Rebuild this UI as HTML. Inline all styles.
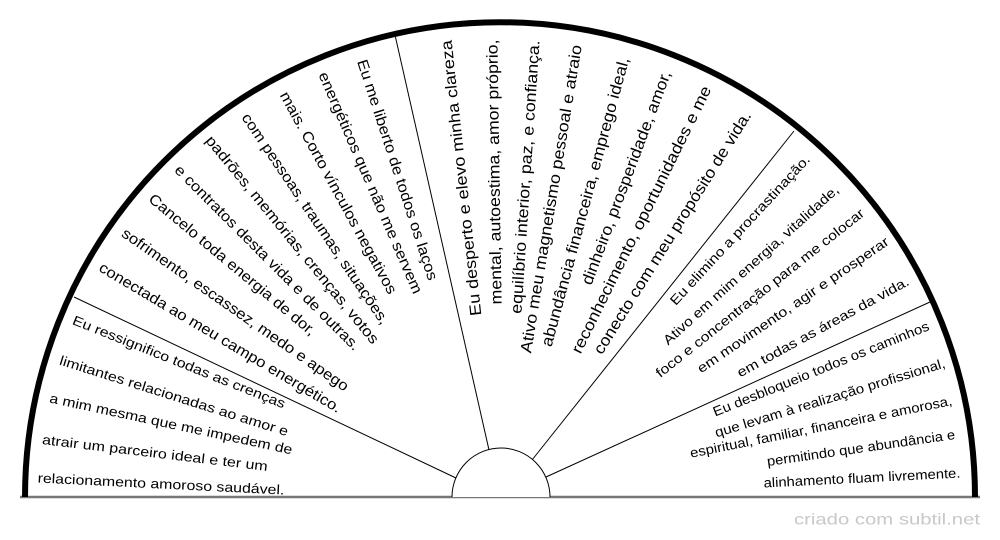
<!DOCTYPE html>
<html><head><meta charset="utf-8"><style>
html,body{margin:0;padding:0;background:#fff;width:1000px;height:540px;overflow:hidden}
svg{display:block}
text{font-family:"Liberation Sans",sans-serif;fill:#000;dominant-baseline:central;text-anchor:middle}
</style></head><body>
<svg width="1000" height="540" viewBox="0 0 1000 540" xmlns="http://www.w3.org/2000/svg">
<line x1="20" y1="497" x2="980" y2="497" stroke="#777" stroke-width="2.5"/>
<g stroke="#000" stroke-width="1">
<line x1="456" y1="478" x2="74" y2="297"/>
<line x1="489" y1="450" x2="395" y2="35"/>
<line x1="532" y1="460" x2="794" y2="131"/>
<line x1="546" y1="477" x2="930" y2="302"/>
</g>
<path d="M25 497 A475 475 0 0 1 975 497" fill="none" stroke="#000" stroke-width="6"/>
<path d="M452 497 A49 49 0 0 1 550 497" fill="#fff" stroke="#000" stroke-width="1"/>
<g font-size="13.5">
<text transform="translate(179,362) rotate(21.8)" textLength="228" lengthAdjust="spacingAndGlyphs">Eu ressignifico todas as crenças</text>
<text transform="translate(174,396) rotate(17.5)" textLength="239" lengthAdjust="spacingAndGlyphs">limitantes relacionadas ao amor e</text>
<text transform="translate(171,424) rotate(12.1)" textLength="248" lengthAdjust="spacingAndGlyphs">a mim mesma que me impedem de</text>
<text transform="translate(155,453) rotate(6.8)" textLength="227" lengthAdjust="spacingAndGlyphs">atrair um parceiro ideal e ter um</text>
<text transform="translate(161,484) rotate(2.8)" textLength="247" lengthAdjust="spacingAndGlyphs">relacionamento amoroso saudável.</text>
</g>
<g font-size="15">
<text transform="translate(397,170) rotate(72)" textLength="231" lengthAdjust="spacingAndGlyphs">Eu me liberto de todos os laços</text>
<text transform="translate(370,183) rotate(66.6)" textLength="240" lengthAdjust="spacingAndGlyphs">energéticos que não me servem</text>
<text transform="translate(338,193) rotate(61.4)" textLength="228" lengthAdjust="spacingAndGlyphs">mais. Corto vínculos negativos</text>
<text transform="translate(315,219) rotate(56)" textLength="251" lengthAdjust="spacingAndGlyphs">com pessoas, traumas, situações,</text>
<text transform="translate(292,240) rotate(50.7)" textLength="264" lengthAdjust="spacingAndGlyphs">padrões, memórias, crenças, votos</text>
<text transform="translate(267,258) rotate(45)" textLength="255" lengthAdjust="spacingAndGlyphs">e contratos desta vida e de outras.</text>
<text transform="translate(232,265) rotate(39.8)" textLength="212" lengthAdjust="spacingAndGlyphs">Cancelo toda energia de dor,</text>
<text transform="translate(235,310) rotate(34.9)" textLength="273" lengthAdjust="spacingAndGlyphs">sofrimento, escassez, medo e apego</text>
<text transform="translate(220,338) rotate(30.8)" textLength="279" lengthAdjust="spacingAndGlyphs">conectada ao meu campo energético.</text>
</g>
<g font-size="16">
<text transform="translate(462,178) rotate(-96.2)" textLength="277" lengthAdjust="spacingAndGlyphs">Eu desperto e elevo minha clareza</text>
<text transform="translate(495,172) rotate(-90.9)" textLength="265" lengthAdjust="spacingAndGlyphs">mental, autoestima, amor próprio,</text>
<text transform="translate(526,177) rotate(-86.2)" textLength="274" lengthAdjust="spacingAndGlyphs">equilíbrio interior, paz, e confiança.</text>
<text transform="translate(552,199) rotate(-80.6)" textLength="312" lengthAdjust="spacingAndGlyphs">Ativo meu magnetismo pessoal e atraio</text>
<text transform="translate(586,202) rotate(-74.9)" textLength="299" lengthAdjust="spacingAndGlyphs">abundância financeira, emprego ideal,</text>
<text transform="translate(627,178) rotate(-69.4)" textLength="227" lengthAdjust="spacingAndGlyphs">dinheiro, prosperidade, amor,</text>
<text transform="translate(642,220) rotate(-63.7)" textLength="296" lengthAdjust="spacingAndGlyphs">reconhecimento, oportunidades e me</text>
<text transform="translate(673,233) rotate(-58)" textLength="283" lengthAdjust="spacingAndGlyphs">conecto com meu propósito de vida.</text>
</g>
<g font-size="13.5">
<text transform="translate(740,230) rotate(-47.2)" textLength="199" lengthAdjust="spacingAndGlyphs">Eu elimino a procrastinação.</text>
<text transform="translate(751,265) rotate(-42)" textLength="231" lengthAdjust="spacingAndGlyphs">Ativo em mim energia, vitalidade,</text>
<text transform="translate(760,293) rotate(-38.5)" textLength="262" lengthAdjust="spacingAndGlyphs">foco e concentração para me colocar</text>
<text transform="translate(793,305) rotate(-34.5)" textLength="229" lengthAdjust="spacingAndGlyphs">em movimento, agir e prosperar</text>
<text transform="translate(823,327) rotate(-28.7)" textLength="194" lengthAdjust="spacingAndGlyphs">em todas as áreas da vida.</text>
<text transform="translate(821,369) rotate(-22)" textLength="232" lengthAdjust="spacingAndGlyphs">Eu desbloqueio todos os caminhos</text>
<text transform="translate(830,398) rotate(-17)" textLength="240" lengthAdjust="spacingAndGlyphs">que levam à realização profissional,</text>
<text transform="translate(821,427) rotate(-11.4)" textLength="267" lengthAdjust="spacingAndGlyphs">espiritual, familiar, financeira e amorosa,</text>
<text transform="translate(861,448) rotate(-8.2)" textLength="190" lengthAdjust="spacingAndGlyphs">permitindo que abundância e</text>
<text transform="translate(862,478) rotate(-2.9)" textLength="197" lengthAdjust="spacingAndGlyphs">alinhamento fluam livremente.</text>
</g>
<text x="887" y="520" font-size="16" style="fill:#c8c8c8" textLength="186" lengthAdjust="spacingAndGlyphs">criado com subtil.net</text>
</svg>
</body></html>
